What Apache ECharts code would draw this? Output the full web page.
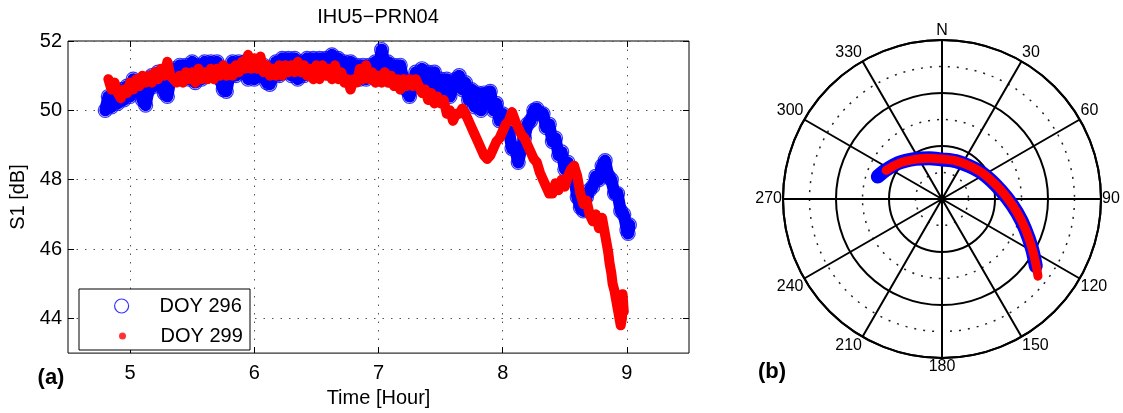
<!DOCTYPE html>
<html>
<head>
<meta charset="utf-8">
<script src="https://cdn.jsdelivr.net/npm/echarts@6/dist/echarts.min.js"></script>
<style>html,body{margin:0;padding:0;background:#fff;}#chart{width:1123px;height:413px;}</style>
</head>
<body>
<div id="chart"></div>
<script>
// ---- Panel (a): S1 vs time ----
const xTicks = [5, 6, 7, 8, 9];
const yTicks = [44, 46, 48, 50, 52];

const doy296Hours = [
  4.800,4.825,4.850,4.875,4.900,4.925,4.950,4.975,
  5.000,5.025,5.050,5.075,5.100,5.125,5.150,5.175,
  5.200,5.225,5.250,5.275,5.300,5.325,5.350,5.375,
  5.400,5.425,5.450,5.475,5.500,5.525,5.550,5.575,
  5.600,5.625,5.650,5.675,5.700,5.725,5.750,5.775,
  5.800,5.825,5.850,5.875,5.900,5.925,5.950,5.975,
  6.000,6.025,6.050,6.075,6.100,6.125,6.150,6.175,
  6.200,6.225,6.250,6.275,6.300,6.325,6.350,6.375,
  6.400,6.425,6.450,6.475,6.500,6.525,6.550,6.575,
  6.600,6.625,6.650,6.675,6.700,6.725,6.750,6.775,
  6.800,6.825,6.850,6.875,6.900,6.925,6.950,6.975,
  7.000,7.025,7.050,7.075,7.100,7.125,7.150,7.175,
  7.200,7.225,7.250,7.275,7.300,7.325,7.350,7.375,
  7.400,7.425,7.450,7.475,7.500,7.525,7.550,7.575,
  7.600,7.625,7.650,7.675,7.700,7.725,7.750,7.775,
  7.800,7.825,7.850,7.875,7.900,7.925,7.950,7.975,
  8.000,8.025,8.050,8.075,8.100,8.125,8.150,8.175,
  8.200,8.225,8.250,8.275,8.300,8.325,8.350,8.375,
  8.400,8.425,8.450,8.475,8.500,8.525,8.550,8.575,
  8.600,8.625,8.650,8.675,8.700,8.725,8.750,8.775,
  8.800,8.825,8.850,8.875,8.900,8.925,8.950,8.975,
  9.000,9.010,9.020
];
const doy296S1 = [
  50.0,50.4,50.1,50.5,50.2,50.6,50.3,50.7,
  50.4,50.9,50.6,50.8,50.3,50.15,50.6,51.0,
  50.7,51.1,50.8,50.5,50.4,50.9,51.2,50.9,
  51.3,50.9,51.3,50.9,51.4,50.8,51.3,50.9,
  51.4,51.0,51.4,51.0,51.4,50.9,50.6,50.55,
  51.0,51.4,51.0,51.4,51.1,51.4,50.9,51.3,
  50.9,51.3,51.0,51.3,50.8,50.75,51.0,51.4,
  51.0,51.5,51.1,51.5,51.0,51.5,50.9,51.4,
  51.0,51.5,51.1,51.5,51.1,51.5,51.2,51.5,
  51.2,51.6,51.2,51.5,51.1,51.4,51.0,51.4,
  51.0,51.3,50.9,51.3,50.9,51.3,51.0,51.4,
  51.1,51.75,51.3,51.4,51.0,51.3,50.9,51.3,
  50.9,50.6,50.4,50.7,51.1,50.8,51.2,50.9,
  51.1,50.7,51.1,50.6,50.9,50.5,50.9,50.4,
  50.7,50.9,51.0,50.6,50.8,50.3,50.6,50.1,
  50.5,50.0,50.5,50.3,50.55,50.0,50.2,49.7,
  49.9,49.4,49.4,48.9,48.9,48.5,48.9,49.2,
  49.6,49.7,50.0,50.05,49.9,49.9,49.5,49.6,
  49.1,49.2,48.7,48.8,48.3,48.5,48.0,48.1,
  47.5,47.2,47.1,47.5,47.7,47.8,48.1,48.0,
  48.4,48.55,48.1,48.0,47.6,47.6,47.1,47.0,
  46.55,46.45,46.7
];

const doy299Hours = [
  4.825,4.850,4.875,4.900,4.925,4.950,4.975,5.000,
  5.025,5.050,5.075,5.100,5.125,5.150,5.175,5.200,
  5.225,5.250,5.275,5.300,5.325,5.350,5.375,5.400,
  5.425,5.450,5.475,5.500,5.525,5.550,5.575,5.600,
  5.625,5.650,5.675,5.700,5.725,5.750,5.775,5.800,
  5.825,5.850,5.875,5.900,5.925,5.950,5.975,6.000,
  6.025,6.050,6.075,6.100,6.125,6.150,6.175,6.200,
  6.225,6.250,6.275,6.300,6.325,6.350,6.375,6.400,
  6.425,6.450,6.475,6.500,6.525,6.550,6.575,6.600,
  6.625,6.650,6.675,6.700,6.725,6.750,6.775,6.800,
  6.825,6.850,6.875,6.900,6.925,6.950,6.975,7.000,
  7.025,7.050,7.075,7.100,7.125,7.150,7.175,7.200,
  7.225,7.250,7.275,7.300,7.325,7.350,7.375,7.400,
  7.425,7.450,7.475,7.500,7.525,7.550,7.575,7.600,
  7.625,7.650,7.675,7.700,7.725,7.750,7.775,7.800,
  7.825,7.850,7.875,7.900,7.925,7.950,7.975,8.000,
  8.025,8.050,8.075,8.100,8.125,8.150,8.175,8.200,
  8.225,8.250,8.275,8.300,8.325,8.350,8.375,8.400,
  8.425,8.450,8.475,8.500,8.525,8.550,8.575,8.600,
  8.625,8.650,8.675,8.700,8.725,8.750,8.775,8.800,
  8.825,8.835,8.850,8.860,8.875,8.885,8.900,8.910,
  8.925,8.935,8.950,8.960,8.965,8.975
];
const doy299S1 = [
  50.9,50.6,50.8,50.5,50.35,50.6,50.5,50.8,
  50.6,50.9,50.7,51.0,50.8,51.0,50.8,51.1,
  50.9,51.2,51.0,51.4,51.0,50.9,50.8,51.0,
  50.8,51.1,50.9,51.1,50.8,51.2,50.9,51.1,
  50.9,51.2,50.9,51.2,51.0,51.3,51.0,51.2,
  51.0,51.3,51.1,51.4,51.2,51.6,51.2,51.5,
  51.2,51.55,51.1,51.3,51.0,51.2,51.0,51.3,
  51.0,51.3,51.1,51.3,51.1,51.4,51.1,51.3,
  51.0,51.2,50.9,51.3,50.9,51.3,51.0,51.2,
  50.9,51.3,50.9,51.1,50.8,50.9,50.6,50.9,
  50.8,51.2,50.9,51.3,50.9,51.1,50.8,51.0,
  50.8,51.1,50.8,51.0,50.7,50.9,50.6,50.9,
  50.7,50.9,50.7,50.9,50.7,50.5,50.6,50.3,
  50.5,50.2,50.4,50.2,50.3,49.9,50.0,49.7,
  49.9,49.9,50.05,49.9,49.7,49.5,49.3,49.1,
  48.9,48.7,48.6,48.7,48.9,49.1,49.2,49.4,
  49.6,49.7,49.95,49.7,49.5,49.3,49.2,49.0,
  48.8,48.6,48.5,48.2,48.0,47.8,47.6,47.6,
  47.9,47.7,48.0,47.8,48.1,48.3,48.4,48.1,
  47.6,47.3,47.4,47.0,46.8,47.0,46.6,46.9,
  46.4,46.2,45.9,45.6,45.3,45.0,44.8,44.6,
  44.3,44.1,43.8,44.0,44.7,44.2
];

// ---- Panel (b): sky plot (elevation deg, azimuth deg) ----
const azTicks = [0, 30, 60, 90, 120, 150, 180, 210, 240, 270, 300, 330];
const track296Elev = [51.5, 54.0, 58.0, 62.8, 65.8, 67.6, 67.2, 65.9, 63.0, 58.7, 53.2, 46.8, 39.8, 31.7, 24.7];
const track296Az   = [289.3, 296.5, 309.5, 326.5, 342.5, 0, 20, 39, 57, 75, 89, 100.3, 110, 119, 125.6];
const track299Elev = [54.5, 58.5, 63.1, 65.8, 67.4, 67.0, 65.7, 62.8, 58.5, 53.0, 46.6, 39.6, 31.4, 24.4, 20.3];
const track299Az   = [297.1, 310.1, 327, 342.8, 0, 20.1, 39.3, 57.4, 75.2, 89.1, 100.5, 110.1, 119.2, 125.5, 128.8];

const FONT = 'Liberation Sans, Arial, Helvetica, sans-serif';
const pairs = (a, b) => a.map((v, i) => [v, b[i]]);
const blueData = pairs(doy296Hours, doy296S1);
const redData = pairs(doy299Hours, doy299S1);
const blueTrack = pairs(track296Elev, track296Az);
const redTrack = pairs(track299Elev, track299Az);

const dotted = { type: [1.5, 7], color: '#555', width: 1 };

const chart = echarts.init(document.getElementById('chart'), null, { renderer: 'canvas' });
chart.setOption({
  animation: false,
  backgroundColor: '#fff',
  textStyle: { fontFamily: FONT, color: '#000' },
  grid: { left: 68, top: 41, width: 621, height: 318, show: true, borderColor: '#000', borderWidth: 1, backgroundColor: '#fff' },
  xAxis: [{
    type: 'value', min: 4.5, max: 9.5, position: 'bottom',
    axisLine: { show: false },
    axisTick: { inside: true, length: 6, customValues: xTicks, lineStyle: { color: '#000' } },
    axisLabel: { customValues: xTicks, fontSize: 20, margin: 10, color: '#000', fontFamily: FONT },
    splitLine: { show: true, lineStyle: dotted },
    name: 'Time [Hour]', nameLocation: 'middle', nameGap: 33,
    nameTextStyle: { fontSize: 20, color: '#000', fontFamily: FONT }
  }, {
    type: 'value', min: 4.5, max: 9.5, position: 'top',
    axisLine: { show: false },
    axisTick: { inside: true, length: 6, customValues: xTicks, lineStyle: { color: '#000' } },
    axisLabel: { show: false }, splitLine: { show: false }
  }],
  yAxis: [{
    type: 'value', min: 43, max: 52, position: 'left',
    axisLine: { show: false },
    axisTick: { inside: true, length: 6, customValues: yTicks, lineStyle: { color: '#000' } },
    axisLabel: { customValues: yTicks, fontSize: 20, margin: 6, color: '#000', fontFamily: FONT },
    splitLine: { show: true, lineStyle: dotted },
    name: 'S1 [dB]', nameLocation: 'middle', nameGap: 40,
    nameTextStyle: { fontSize: 20, color: '#000', fontFamily: FONT }
  }, {
    type: 'value', min: 43, max: 52, position: 'right',
    axisLine: { show: false },
    axisTick: { inside: true, length: 6, customValues: yTicks, lineStyle: { color: '#000' } },
    axisLabel: { show: false }, splitLine: { show: false }
  }],
  polar: [
    { center: [942, 199], radius: 159 },
    { center: [942, 199], radius: 159 }
  ],
  angleAxis: [{
    polarIndex: 0, type: 'value', min: 0, max: 360, startAngle: 90, clockwise: true,
    axisLine: { show: false }, axisTick: { show: false }, axisLabel: { show: false }, splitLine: { show: false }
  }, {
    polarIndex: 1, type: 'value', min: 0, max: 360, interval: 30, startAngle: 90, clockwise: true,
    axisLine: { show: true, lineStyle: { color: '#000', width: 2 } },
    axisTick: { show: false },
    axisLabel: { show: true, margin: 1, fontSize: 16, color: '#000', fontFamily: FONT,
      formatter: v => (v === 0 ? 'N' : (azTicks.indexOf(v) >= 0 ? String(v) : '')) },
    splitLine: { show: true, lineStyle: { color: '#000', width: 2 } }
  }],
  radiusAxis: [{
    polarIndex: 0, type: 'value', min: 0, max: 90, inverse: true,
    axisLine: { show: false }, axisLabel: { show: false, customValues: [15, 45, 75] },
    axisTick: { show: false, customValues: [15, 45, 75] },
    splitLine: { show: true, lineStyle: { type: [2, 7], color: '#222', width: 1.5 } }
  }, {
    polarIndex: 1, type: 'value', min: 0, max: 90, interval: 30, inverse: true,
    axisLine: { show: false }, axisLabel: { show: false }, axisTick: { show: false },
    splitLine: { show: true, lineStyle: { color: '#000', width: 2 } }
  }],
  legend: [{
    data: [{ name: 'DOY 296', icon: 'circle', itemStyle: { color: 'rgba(0,0,0,0)', borderColor: '#0000ff', borderWidth: 1.2 } }],
    left: 114, top: 296, padding: 0, itemWidth: 66, itemHeight: 14, z: 6,
    textStyle: { fontSize: 20, color: '#000', fontFamily: FONT }, selectedMode: false
  }, {
    data: [{ name: 'DOY 299', icon: 'circle', itemStyle: { color: '#ff0000', borderWidth: 0 } }],
    left: 119, top: 326, padding: 0, itemWidth: 66, itemHeight: 7, z: 6,
    textStyle: { fontSize: 20, color: '#000', fontFamily: FONT }, selectedMode: false
  }],
  graphic: [
    { type: 'rect', z: 5, shape: { x: 79, y: 289, width: 171, height: 61 },
      style: { fill: '#fff', stroke: '#000', lineWidth: 1 } },
    { type: 'text', z: 5, x: 378, y: 17,
      style: { text: 'IHU5\u2212PRN04', fontSize: 20, fontFamily: FONT, fill: '#000', align: 'center', verticalAlign: 'middle' } },
    { type: 'text', z: 5, x: 51, y: 378,
      style: { text: '(a)', fontSize: 22, fontWeight: 'bold', fontFamily: FONT, fill: '#000', align: 'center', verticalAlign: 'middle' } },
    { type: 'text', z: 5, x: 772, y: 372,
      style: { text: '(b)', fontSize: 22, fontWeight: 'bold', fontFamily: FONT, fill: '#000', align: 'center', verticalAlign: 'middle' } }
  ],
  series: [
    { name: 'band296', type: 'line', xAxisIndex: 0, yAxisIndex: 0, data: blueData, showSymbol: false, silent: true,
      lineStyle: { color: '#0000ff', width: 12, cap: 'round', join: 'round' }, z: 2 },
    { name: 'DOY 296', type: 'scatter', xAxisIndex: 0, yAxisIndex: 0, data: blueData, symbol: 'circle', symbolSize: 14, silent: true,
      itemStyle: { color: 'rgba(0,0,0,0)', borderColor: '#0000ff', borderWidth: 1.2 }, z: 2 },
    { name: 'band299', type: 'line', xAxisIndex: 0, yAxisIndex: 0, data: redData, showSymbol: false, silent: true,
      lineStyle: { color: '#ff0000', width: 10, cap: 'round', join: 'round' }, z: 3 },
    { name: 'DOY 299', type: 'scatter', xAxisIndex: 0, yAxisIndex: 0, data: redData, symbol: 'circle', symbolSize: 9, silent: true,
      itemStyle: { color: '#ff0000' }, z: 3 },
    { name: 'sky296', type: 'line', coordinateSystem: 'polar', polarIndex: 1, data: blueTrack, showSymbol: false, silent: true, smooth: 0.3,
      lineStyle: { color: '#0000ff', width: 14, cap: 'round', join: 'round' }, z: 3 },
    { name: 'sky299', type: 'line', coordinateSystem: 'polar', polarIndex: 1, data: redTrack, showSymbol: false, silent: true, smooth: 0.3,
      lineStyle: { color: '#ff0000', width: 9, cap: 'round', join: 'round' }, z: 4 }
  ]
});
</script>
</body>
</html>
